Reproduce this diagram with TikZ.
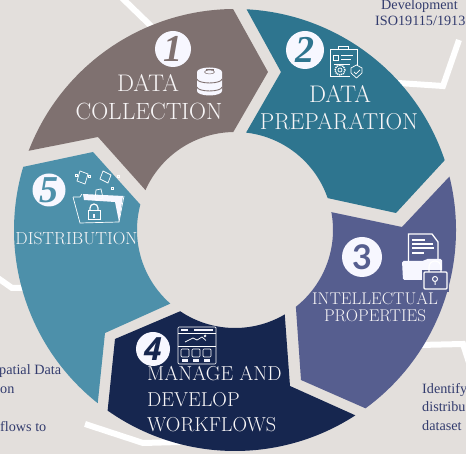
\documentclass[tikz,border=0pt]{standalone}
\usepackage{fontspec}
\newfontfamily\smallserif{Liberation Serif}
\newfontfamily\numsans{Lato}
\newfontfamily\numhand{Open Sans}
\definecolor{bgcol}{HTML}{E3DFDC}
\definecolor{browncol}{HTML}{7F7170}
\definecolor{tealcol}{HTML}{2E758F}
\definecolor{purplecol}{HTML}{565E8F}
\definecolor{navycol}{HTML}{16264F}
\definecolor{bluecol}{HTML}{4D90AA}
\definecolor{inkcol}{HTML}{333C6E}
\definecolor{labelcol}{HTML}{F8F6F7}
\tikzset{
    seglabel/.style={text=labelcol,inner sep=0pt,font=\fontsize{#1}{#1}\selectfont},
    smalltext/.style={text=inkcol,anchor=base west,inner sep=0pt,font=\smallserif\fontsize{14.2}{14.2}\selectfont},
    numdisc/.style={circle,fill=white!97!blue,inner sep=0pt,minimum size=#1},
    numserif/.style={font=\smallserif\fontsize{38}{38}\selectfont\bfseries\itshape},
    leader/.style={white,line width=6pt,line join=miter},
    iconline/.style={draw=white,line width=0.7pt},
    iconfill/.style={fill=white!97!blue}
}
\begin{document}
\begin{tikzpicture}[x=1pt,y=1pt]
    \useasboundingbox[fill=bgcol] (0,0) rectangle (466,454);
    \coordinate (c) at (235,224);

    % weisse Linien hinter den Segmenten
    \coordinate (topa) at (120,458); \coordinate (topb) at (152,427);
    \draw[leader] (topa) -- (topb);
    \coordinate (righta) at (459,414); \coordinate (rightb) at (443,368); \coordinate (rightc) at (398,371);
    \draw[leader] (righta) -- (rightb) -- (rightc);
    \coordinate (bota) at (85,30); \coordinate (botb) at (143,11); \coordinate (botc) at (180,12);
    \draw[leader] (bota) -- (botb) -- (botc);
    \coordinate (lefta) at (-5,178); \coordinate (leftb) at (12,166); \coordinate (leftc) at (25,166);
    \draw[leader] (lefta) -- (leftb) -- (leftc);
    \coordinate (lowa) at (420,109); \coordinate (lowb) at (463,110); \coordinate (lowc) at (472,82);
    \draw[leader] (lowa) -- (lowb) -- (lowc);

    % Segmente
    \fill[browncol] ([shift={(159:221pt)}]c) arc[start angle=159,end angle=90.5,radius=221pt]
        -- (268,382) -- ([shift={(91:98pt)}]c) arc[start angle=91,end angle=156,radius=98pt]
        -- (98,317) -- cycle;
    \fill[tealcol] ([shift={(87:221pt)}]c) arc[start angle=87,end angle=18.4,radius=221pt]
        -- (396,241) -- ([shift={(19:98pt)}]c) arc[start angle=19,end angle=83.5,radius=98pt]
        -- (281,382) -- cycle;
    \fill[purplecol] ([shift={(14:221pt)}]c) arc[start angle=14,end angle=-53.8,radius=221pt]
        -- (301,74) -- ([shift={(-51.6:98pt)}]c) arc[start angle=-51.6,end angle=10.5,radius=98pt]
        -- (402,227) -- cycle;
    \fill[navycol] ([shift={(-57:221pt)}]c) arc[start angle=-57,end angle=-125.2,radius=221pt]
        -- (115,115) -- ([shift={(-124:98pt)}]c) arc[start angle=-124,end angle=-59.5,radius=98pt]
        -- (290,68) -- cycle;
    \fill[bluecol] ([shift={(231.6:221pt)}]c) arc[start angle=231.6,end angle=163.4,radius=221pt]
        -- (93,302) -- ([shift={(165:98pt)}]c) arc[start angle=165,end angle=228.7,radius=98pt]
        -- (105,121) -- cycle;

    % Zahlen
    \node[numdisc=36pt,numserif,text=browncol] (num1) at (173,405) {1};
    \node[numdisc=38pt,numserif,text=tealcol] (num2) at (305,404) {2};
    \node[numdisc=40pt,text=purplecol,font=\numsans\fontsize{34}{34}\selectfont\bfseries] (num3) at (362,197) {3};
    \node[numdisc=34pt,text=navycol,font=\numhand\fontsize{32}{32}\selectfont\bfseries\itshape] (num4) at (153,105) {4};
    \node[numdisc=33pt,numserif,text=bluecol] (num5) at (49,264) {5};

    % Beschriftung
    \node[seglabel=24] (lab1a) at (148,371) {DATA};
    \node[seglabel=23.5] (lab1b) at (149,343) {COLLECTION};
    \node[seglabel=24] (lab2a) at (340,360) {DATA};
    \node[seglabel=23] (lab2b) at (339,332) {PREPARATION};
    \node[seglabel=17] (lab3a) at (375,155) {INTELLECTUAL};
    \node[seglabel=17] (lab3b) at (375,138.5) {PROPERTIES};
    \node[seglabel=20.2,anchor=west] (lab4a) at (147,80) {MANAGE AND};
    \node[seglabel=20.2,anchor=west] (lab4b) at (147,54) {DEVELOP};
    \node[seglabel=20.2,anchor=west] (lab4c) at (147,29) {WORKFLOWS};
    \node[seglabel=17.5] (lab5) at (76.5,215) {DISTRIBUTION};

    % Randtexte
    \node[smalltext] (devtext) at (381,444) {Development};
    \node[smalltext] (isotext) at (375,428) {ISO19115/1913};
    \node[smalltext] (spatial) at (-1,79) {patial Data};
    \node[smalltext] (ontext) at (0,60) {on};
    \node[smalltext] (flows) at (0,22) {flows to};
    \node[smalltext] (identify) at (422,60) {Identify};
    \node[smalltext] (distribu) at (422,42) {distribu};
    \node[smalltext] (dataset) at (422,23) {dataset};

    % Datenbank
    \fill[iconfill] (197,382) -- (197,363) arc[start angle=180,end angle=360,x radius=12.5pt,y radius=4.5pt] -- (222,382) arc[start angle=0,end angle=180,x radius=12.5pt,y radius=4.5pt] -- cycle;
    \draw[browncol,line width=0.9pt] (197,375) arc[start angle=180,end angle=360,x radius=12.5pt,y radius=4pt];
    \draw[browncol,line width=0.9pt] (197,367) arc[start angle=180,end angle=360,x radius=12.5pt,y radius=4pt];
    \draw[browncol,line width=0.5pt] (209.5,382) ellipse (5pt and 2pt);
    \draw[browncol,line width=0.5pt] (206,383) -- (206,385) -- (213,385) -- (213,383);

    % Klemmbrett
    \draw[iconline] (357,388) -- (357,405) -- (330,405) -- (330,378) -- (350,378);
    \draw[iconline] (338,405) -- (338,408) -- (348,408) -- (348,405);
    \draw[iconline] (333,394) rectangle (338,399);
    \draw[iconline] (341,399) -- (353,399) (341,395) -- (351,395) (334,390) -- (350,390);
    \draw[iconline,dashed,dash pattern=on 1.2pt off 0.8pt,line width=1.4pt] (340,384) circle (5pt);
    \draw[iconline] (340,384) circle (2pt);
    \draw[iconline] (356.5,389) -- (362,386) -- (362,381) -- (356.5,376) -- (351,381) -- (351,386) -- cycle;
    \draw[iconline] (354,382) -- (356,380) -- (360,384);

    % Ordner mit Schloss
    \draw[iconline,line width=1.3pt] (408.5,191) -- (408.5,220) -- (432,220) -- (438,212) -- (438,191);
    \draw[iconline,line width=1.1pt] (412,214) -- (425,214) (412,210) -- (433,210) (412,206) -- (434,206) (412,201) -- (424,201);
    \fill[iconfill,rounded corners=1.5pt] (402,193) -- (424,193) -- (426,195) -- (442,195) -- (442,174) -- (403,174) -- cycle;
    \fill[purplecol] (422,162) rectangle (449,184);
    \draw[iconline,line width=1.2pt,rounded corners=1pt] (424,165) rectangle (447,182) ;
    \draw[iconline,line width=1.2pt] (429,182) -- (429,187) arc[start angle=180,end angle=0,radius=6pt] -- (441,182);
    \draw[iconline,line width=1pt] (435,175) circle (2.5pt) (435,172.5) -- (435,169);

    % Fenster
    \draw[iconline,rounded corners=1pt] (178,90) rectangle (216,127);
    \draw[iconline] (178,121) -- (216,121) (178,108) -- (216,108);
    \fill[iconfill] (181,123) rectangle (188,125);
    \fill[iconfill] (194,123) rectangle (213,125);
    \draw[iconline] (185,112) -- (193,116) -- (197,114) -- (202,117) -- (206,113.5);
    \draw[iconline] (205,118) circle (1pt);
    \draw[iconline,rounded corners=1pt] (181,97) rectangle (189,105);
    \draw[iconline,rounded corners=1pt] (192,97) rectangle (200,105);
    \draw[iconline,rounded corners=1pt] (203,97) rectangle (211,105);
    \fill[iconfill] (182,92) rectangle (188,95);
    \fill[iconfill] (193,92) rectangle (199,95);
    \fill[iconfill] (204,92) rectangle (210,95);

    % Ordner mit Papieren
    \draw[iconline] (73,257) -- (80,231) -- (119,232) -- (124,258);
    \draw[iconline] (73,257) -- (80,257) -- (82,260);
    \fill[iconfill] (83,260) -- (123,258) -- (119,232) -- (115,252) -- (84,254) -- cycle;
    \draw[iconline] (77,273) -- (85,270) -- (88,280) -- (80,283) -- cycle;
    \draw[iconline] (95,254) -- (103,256) -- (101,265) -- (96,264) -- cycle;
    \draw[iconline] (100,275) -- (108,271) -- (111,279) -- (103,283) -- cycle;
    \draw[iconline] (75,278) rectangle (77,280);
    \draw[iconline] (88,277) rectangle (90,279);
    \draw[iconline] (111,265) rectangle (113,267);
    \draw[iconline] (117,277) rectangle (119,279);
    \draw[iconline,line width=1pt] (88,234) rectangle (100,243);
    \draw[iconline,line width=1.2pt] (90,243) -- (90,246) arc[start angle=180,end angle=0,radius=4pt] -- (98,243);
    \fill[iconfill] (93,236) rectangle (95,240);
\end{tikzpicture}
\end{document}
